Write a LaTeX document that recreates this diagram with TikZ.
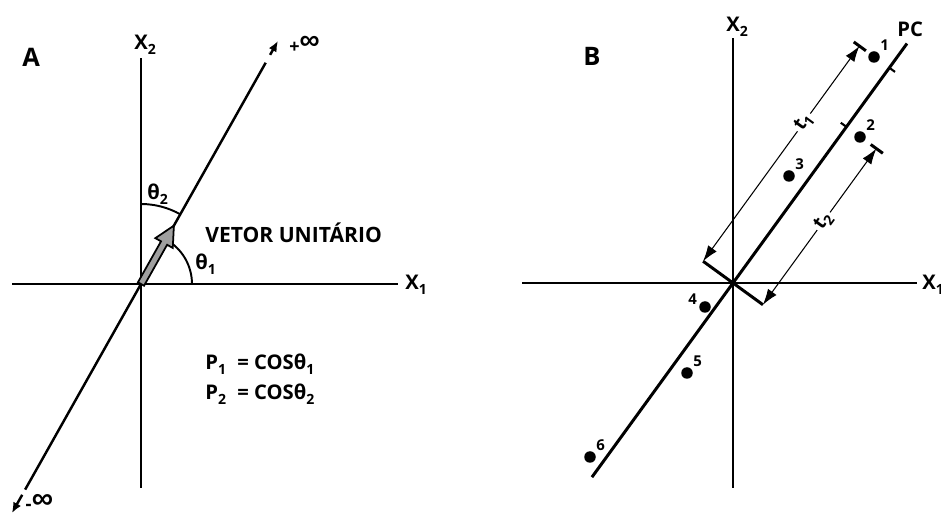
\documentclass[tikz,border=0pt]{standalone}
\usepackage{fontspec}
\setmainfont{Open Sans}
\newfontfamily\symfont{Liberation Sans}
\usetikzlibrary{arrows.meta, calc, positioning}
\newcommand\lowidx[1]{\raisebox{-2.5pt}{\fontsize{8}{9}\selectfont #1}}

\begin{document}
\begin{tikzpicture}[x=0.02cm, y=0.02cm,
  axis/.style={line width=1.7pt},
  thinaxis/.style={line width=1.4pt},
  arcline/.style={line width=1.1pt},
  lbl/.style={font=\fontsize{11.5}{13}\selectfont\bfseries, inner sep=0pt, anchor=base west},
  big/.style={lbl, font=\fontsize{12}{14}\selectfont\bfseries},
  tag/.style={lbl, font=\fontsize{14.5}{16}\selectfont\bfseries},
  inf/.style={font=\symfont\bfseries, inner sep=0pt, anchor=base west},
  dot/.style={circle, fill=black, inner sep=0pt, minimum size=0.23cm},
  num/.style={font=\fontsize{8.5}{10}\selectfont\bfseries, inner sep=1pt},
  dim/.style={line width=0.6pt, {Latex[length=9pt,width=6pt]}-{Latex[length=9pt,width=6pt]}},
  tlbl/.style={font=\fontsize{11}{12}\selectfont\bfseries, fill=white, inner sep=1.5pt, sloped},
  bar/.style={line width=1.7pt},
  tick/.style={line width=1.2pt}]
\useasboundingbox (0,0) rectangle (941,514);

% ---------------- Panel A ----------------
\coordinate (OA) at (141,230);
\coordinate (AW) at (12,230);
\coordinate (AE) at (398,230);
\coordinate (AS) at (141,26);
\coordinate (AN) at (141,456);

% Axes
\draw[axis] (AW) -- (AE);
\draw[axis] (AS) -- (AN);
\node[tag] (tagA) at (22,447) {A};
\node[lbl] (x1a) at (405,224) {X\lowidx{1}};
\node[lbl] (x2a) at (134,464) {X\lowidx{2}};

% Direction line with +/- infinity ends
\coordinate (Lbot) at ($(OA)+(240.6:263)$);
\coordinate (Lbot2) at ($(OA)+(240.6:242)$);
\coordinate (Lbot1) at ($(OA)+(240.6:236)$);
\coordinate (Ltop1) at ($(OA)+(60.6:254)$);
\coordinate (Ltop2) at ($(OA)+(60.6:263)$);
\coordinate (Ltop) at ($(OA)+(60.6:279)$);
\draw[thinaxis] (Lbot1) -- (Ltop1);
\draw[thinaxis, -{Latex[length=6pt,width=5pt]}] (Ltop2) -- (Ltop);
\draw[thinaxis, -{Latex[length=6pt,width=5pt]}] (Lbot2) -- (Lbot);
\node[inf] (pinf) at (289,464) {\raisebox{-1.5pt}{\fontsize{10}{10}\selectfont +}\fontsize{16}{17}\selectfont ∞};
\node[inf] (minf) at (25,5) {\raisebox{-1pt}{\fontsize{11}{11}\selectfont -}\fontsize{17}{18}\selectfont ∞};

% Angles
\draw[arcline] ($(OA)+(90:80)$) arc (90:60.6:80);
\draw[arcline] ($(OA)+(0:51)$) arc (0:60.6:51);
\node[lbl] (th2) at (147,314) {θ\lowidx{2}};
\node[lbl] (th1) at (195,244) {θ\lowidx{1}};

% Unit vector
\begin{scope}[shift={(OA)}, rotate=60.6]
  \filldraw[fill=gray!75, line width=1pt, line join=miter]
    (0,-3.5) -- (47,-3.5) -- (47,-10) -- (67,0) -- (47,10) -- (47,3.5) -- (0,3.5) -- cycle;
\end{scope}
\node[big] (vet) at (205,271) {VETOR UNITÁRIO};

% Loadings
\node[lbl] (p1) at (205,144) {\makebox[0.64cm][l]{P\lowidx{1}}= COSθ\lowidx{1}};
\node[lbl] (p2) at (205,114) {\makebox[0.64cm][l]{P\lowidx{2}}= COSθ\lowidx{2}};

% ---------------- Panel B ----------------
\coordinate (OB) at (733,231);
\coordinate (BW) at (522,231);
\coordinate (BE) at (917,231);
\coordinate (BS) at (733,26);
\coordinate (BN) at (733,476);

% Axes
\draw[axis] (BW) -- (BE);
\draw[axis] (BS) -- (BN);
\node[tag] (tagB) at (583,448) {B};
\node[lbl] (x1b) at (922,224) {X\lowidx{1}};
\node[lbl] (x2b) at (726,482) {X\lowidx{2}};

% Principal component
\coordinate (PCbot) at ($(OB)+(234:240)$);
\coordinate (PCtop) at ($(OB)+(54:296)$);
\draw[axis] (PCbot) -- (PCtop);
\node[lbl] (pc) at (897,477) {PC};

% Bar across the origin
\coordinate (b1) at ($(OB)+(144:37)$);
\coordinate (b2) at ($(OB)+(-36:37)$);
\draw[bar] (b1) -- (b2);

% Projections on PC
\coordinate (q1) at ($(OB)+(54:266)$);
\coordinate (q2) at ($(OB)+(54:193)$);
\draw[tick] (q1) -- ($(q1)+(-36:7)$);
\draw[tick] (q2) -- ($(q2)+(144:7)$);

% Scores t1 and t2
\coordinate (T1) at ($(b1)+(54:266)$);
\coordinate (T2) at ($(b2)+(54:193)$);
\draw[bar] ($(T1)+(144:7)$) -- ($(T1)+(-36:8)$);
\draw[bar] ($(T2)+(144:7)$) -- ($(T2)+(-36:8)$);
\draw[dim] (b1) -- (T1) node[tlbl, pos=0.645] (t1) {t\lowidx{1}};
\draw[dim] (b2) -- (T2) node[tlbl, pos=0.535] (t2) {t\lowidx{2}};

% Data points
\node[dot] (d1) at (874,457) {};
\node[dot] (d2) at (860,377) {};
\node[dot] (d3) at (789,338) {};
\node[dot] (d4) at (705,207) {};
\node[dot] (d5) at (687,141) {};
\node[dot] (d6) at (590,57) {};
\node[num, anchor=south west] (n1) at (d1.north east) {1};
\node[num, anchor=south west] (n2) at (d2.north east) {2};
\node[num, anchor=south west] (n3) at (d3.north east) {3};
\node[num, anchor=south east] (n4) at (d4.west) {4};
\node[num, anchor=south west] (n5) at (d5.north east) {5};
\node[num, anchor=south west] (n6) at (d6.north east) {6};
\end{tikzpicture}
\end{document}
